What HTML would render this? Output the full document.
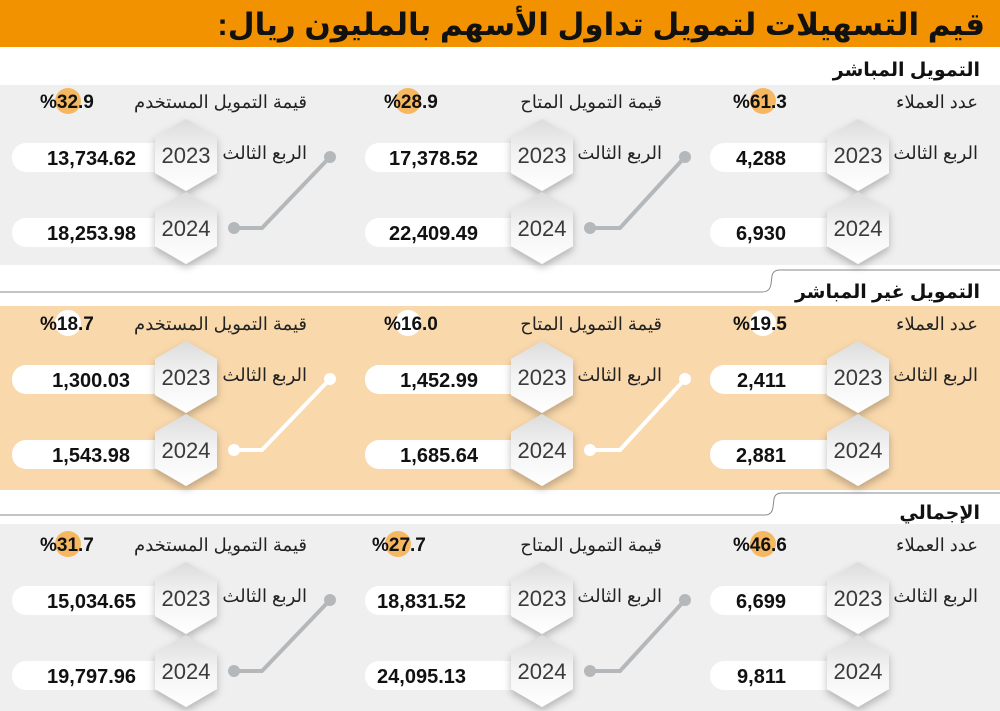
<!DOCTYPE html>
<html><head><meta charset="utf-8"><style>
html,body{margin:0;padding:0;background:#fff;}
svg{display:block}
text{font-family:"Liberation Sans","Noto Sans CJK SC","DejaVu Sans",sans-serif;}
.lab{font-size:18px;fill:#222;font-weight:300}
.pct{font-size:19px;font-weight:bold;fill:#111}
.num{font-size:20px;font-weight:bold;fill:#111}
.yr{font-size:22px;fill:#3a3a3a;text-anchor:middle}
.hd{font-size:19px;font-weight:bold;fill:#111;text-anchor:end}
</style></head><body>
<svg width="1000" height="711" viewBox="0 0 1000 711" xmlns="http://www.w3.org/2000/svg">
<defs>
<linearGradient id="hg" x1="0" y1="0" x2="0" y2="1"><stop offset="0" stop-color="#dcdcdc"/><stop offset="0.5" stop-color="#f4f4f4"/><stop offset="1" stop-color="#ffffff"/></linearGradient>
<filter id="sh" x="-50%" y="-50%" width="200%" height="200%"><feDropShadow dx="0" dy="4" stdDeviation="4" flood-color="#000" flood-opacity="0.25"/></filter>
<g id="hex"><polygon points="0,-36 31,-18 31,18 0,36 -31,18 -31,-18" fill="url(#hg)" filter="url(#sh)"/></g>
</defs>
<rect x="0" y="0" width="1000" height="47" fill="#f39200"/>
<text x="985" y="35" font-size="31" font-weight="bold" direction="rtl" text-anchor="start" fill="#111">قيم التسهيلات لتمويل تداول الأسهم بالمليون ريال:</text>
<text x="980" y="76" class="hd">التمويل المباشر</text>
<text x="980" y="298" class="hd">التمويل غير المباشر</text>
<text x="980" y="519" class="hd">الإجمالي</text>
<path d="M0,292 H762 Q770,292 771,284 L772,276 Q773,270 780,270 H1000" fill="none" stroke="#888" stroke-width="1"/>
<path d="M0,515 H765 Q772,515 773,507 L774,499 Q775,493 782,493 H1000" fill="none" stroke="#888" stroke-width="1"/>

<rect x="0" y="85" width="1000" height="180" fill="#efefef"/>
<rect x="0" y="306" width="1000" height="184" fill="#f9d8ab"/>
<rect x="0" y="524" width="1000" height="187" fill="#efefef"/>

<!-- PANEL 1 T=85 -->
<g>
<text x="978" y="108" class="lab" text-anchor="end">عدد العملاء</text>
<text x="662" y="108" class="lab" text-anchor="end">قيمة التمويل المتاح</text>
<text x="307" y="108" class="lab" text-anchor="end">قيمة التمويل المستخدم</text>
<circle cx="763" cy="101" r="13" fill="#f5b860"/><circle cx="408" cy="101" r="13" fill="#f5b860"/><circle cx="68" cy="101" r="13" fill="#f5b860"/>
<text x="733" y="108" class="pct">%61.3</text><text x="384" y="108" class="pct">%28.9</text><text x="40" y="108" class="pct">%32.9</text>
<text x="978" y="159" class="lab" text-anchor="end">الربع الثالث</text>
<text x="662" y="159" class="lab" text-anchor="end">الربع الثالث</text>
<text x="307" y="159" class="lab" text-anchor="end">الربع الثالث</text>
<polyline points="685,157 620,228 590,228" fill="none" stroke="#b5b8bb" stroke-width="4"/><circle cx="685" cy="157" r="6" fill="#b5b8bb"/><circle cx="590" cy="228" r="6" fill="#b5b8bb"/>
<polyline points="330,157 262,228 234,228" fill="none" stroke="#b5b8bb" stroke-width="4"/><circle cx="330" cy="157" r="6" fill="#b5b8bb"/><circle cx="234" cy="228" r="6" fill="#b5b8bb"/>
<rect x="710" y="143" width="150" height="29" rx="14" fill="#fff"/><rect x="710" y="218" width="150" height="29" rx="14" fill="#fff"/>
<rect x="365" y="143" width="180" height="29" rx="14" fill="#fff"/><rect x="365" y="218" width="180" height="29" rx="14" fill="#fff"/>
<rect x="12" y="143" width="180" height="29" rx="14" fill="#fff"/><rect x="12" y="218" width="180" height="29" rx="14" fill="#fff"/>
<text x="786" y="165" class="num" text-anchor="end">4,288</text><text x="786" y="240" class="num" text-anchor="end">6,930</text>
<text x="478" y="165" class="num" text-anchor="end">17,378.52</text><text x="478" y="240" class="num" text-anchor="end">22,409.49</text>
<text x="136" y="165" class="num" text-anchor="end">13,734.62</text><text x="136" y="240" class="num" text-anchor="end">18,253.98</text>
<use href="#hex" x="858" y="155"/><use href="#hex" x="858" y="228"/>
<use href="#hex" x="542" y="155"/><use href="#hex" x="542" y="228"/>
<use href="#hex" x="186" y="155"/><use href="#hex" x="186" y="228"/>
<text x="858" y="163" class="yr">2023</text><text x="858" y="236" class="yr">2024</text>
<text x="542" y="163" class="yr">2023</text><text x="542" y="236" class="yr">2024</text>
<text x="186" y="163" class="yr">2023</text><text x="186" y="236" class="yr">2024</text>
</g>

<!-- PANEL 2 -->
<g transform="translate(0,222)">
<text x="978" y="108" class="lab" text-anchor="end">عدد العملاء</text>
<text x="662" y="108" class="lab" text-anchor="end">قيمة التمويل المتاح</text>
<text x="307" y="108" class="lab" text-anchor="end">قيمة التمويل المستخدم</text>
<circle cx="763" cy="101" r="13" fill="#fff"/><circle cx="408" cy="101" r="13" fill="#fff"/><circle cx="68" cy="101" r="13" fill="#fff"/>
<text x="733" y="108" class="pct">%19.5</text><text x="384" y="108" class="pct">%16.0</text><text x="40" y="108" class="pct">%18.7</text>
<text x="978" y="159" class="lab" text-anchor="end">الربع الثالث</text>
<text x="662" y="159" class="lab" text-anchor="end">الربع الثالث</text>
<text x="307" y="159" class="lab" text-anchor="end">الربع الثالث</text>
<polyline points="685,157 620,228 590,228" fill="none" stroke="#fff" stroke-width="4"/><circle cx="685" cy="157" r="6" fill="#fff"/><circle cx="590" cy="228" r="6" fill="#fff"/>
<polyline points="330,157 262,228 234,228" fill="none" stroke="#fff" stroke-width="4"/><circle cx="330" cy="157" r="6" fill="#fff"/><circle cx="234" cy="228" r="6" fill="#fff"/>
<rect x="710" y="143" width="150" height="29" rx="14" fill="#fff"/><rect x="710" y="218" width="150" height="29" rx="14" fill="#fff"/>
<rect x="365" y="143" width="180" height="29" rx="14" fill="#fff"/><rect x="365" y="218" width="180" height="29" rx="14" fill="#fff"/>
<rect x="12" y="143" width="180" height="29" rx="14" fill="#fff"/><rect x="12" y="218" width="180" height="29" rx="14" fill="#fff"/>
<text x="786" y="165" class="num" text-anchor="end">2,411</text><text x="786" y="240" class="num" text-anchor="end">2,881</text>
<text x="478" y="165" class="num" text-anchor="end">1,452.99</text><text x="478" y="240" class="num" text-anchor="end">1,685.64</text>
<text x="130" y="165" class="num" text-anchor="end">1,300.03</text><text x="130" y="240" class="num" text-anchor="end">1,543.98</text>
<use href="#hex" x="858" y="155"/><use href="#hex" x="858" y="228"/>
<use href="#hex" x="542" y="155"/><use href="#hex" x="542" y="228"/>
<use href="#hex" x="186" y="155"/><use href="#hex" x="186" y="228"/>
<text x="858" y="163" class="yr">2023</text><text x="858" y="236" class="yr">2024</text>
<text x="542" y="163" class="yr">2023</text><text x="542" y="236" class="yr">2024</text>
<text x="186" y="163" class="yr">2023</text><text x="186" y="236" class="yr">2024</text>
</g>

<!-- PANEL 3 -->
<g transform="translate(0,443)">
<text x="978" y="108" class="lab" text-anchor="end">عدد العملاء</text>
<text x="662" y="108" class="lab" text-anchor="end">قيمة التمويل المتاح</text>
<text x="307" y="108" class="lab" text-anchor="end">قيمة التمويل المستخدم</text>
<circle cx="763" cy="101" r="13" fill="#f5b860"/><circle cx="398" cy="101" r="13" fill="#f5b860"/><circle cx="68" cy="101" r="13" fill="#f5b860"/>
<text x="733" y="108" class="pct">%46.6</text><text x="372" y="108" class="pct">%27.7</text><text x="40" y="108" class="pct">%31.7</text>
<text x="978" y="159" class="lab" text-anchor="end">الربع الثالث</text>
<text x="662" y="159" class="lab" text-anchor="end">الربع الثالث</text>
<text x="307" y="159" class="lab" text-anchor="end">الربع الثالث</text>
<polyline points="685,157 620,228 590,228" fill="none" stroke="#b5b8bb" stroke-width="4"/><circle cx="685" cy="157" r="6" fill="#b5b8bb"/><circle cx="590" cy="228" r="6" fill="#b5b8bb"/>
<polyline points="330,157 262,228 234,228" fill="none" stroke="#b5b8bb" stroke-width="4"/><circle cx="330" cy="157" r="6" fill="#b5b8bb"/><circle cx="234" cy="228" r="6" fill="#b5b8bb"/>
<rect x="710" y="143" width="150" height="29" rx="14" fill="#fff"/><rect x="710" y="218" width="150" height="29" rx="14" fill="#fff"/>
<rect x="365" y="143" width="180" height="29" rx="14" fill="#fff"/><rect x="365" y="218" width="180" height="29" rx="14" fill="#fff"/>
<rect x="12" y="143" width="180" height="29" rx="14" fill="#fff"/><rect x="12" y="218" width="180" height="29" rx="14" fill="#fff"/>
<text x="786" y="165" class="num" text-anchor="end">6,699</text><text x="786" y="240" class="num" text-anchor="end">9,811</text>
<text x="466" y="165" class="num" text-anchor="end">18,831.52</text><text x="466" y="240" class="num" text-anchor="end">24,095.13</text>
<text x="136" y="165" class="num" text-anchor="end">15,034.65</text><text x="136" y="240" class="num" text-anchor="end">19,797.96</text>
<use href="#hex" x="858" y="155"/><use href="#hex" x="858" y="228"/>
<use href="#hex" x="542" y="155"/><use href="#hex" x="542" y="228"/>
<use href="#hex" x="186" y="155"/><use href="#hex" x="186" y="228"/>
<text x="858" y="163" class="yr">2023</text><text x="858" y="236" class="yr">2024</text>
<text x="542" y="163" class="yr">2023</text><text x="542" y="236" class="yr">2024</text>
<text x="186" y="163" class="yr">2023</text><text x="186" y="236" class="yr">2024</text>
</g>
</svg>
</body></html>
